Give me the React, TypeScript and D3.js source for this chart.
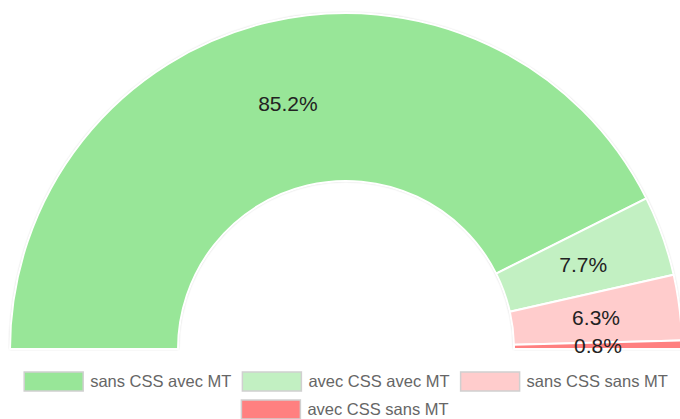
import React, { useEffect, useRef } from "react";
import * as d3 from "d3";

const categories = ["sans CSS avec MT", "avec CSS avec MT", "sans CSS sans MT", "avec CSS sans MT"];
const values = [85.2, 7.7, 6.3, 0.8];
const colors = ["#98e698", "#c2f0c2", "#ffcccc", "#ff8080"];

const App = () => {
	const svgRef = useRef(null);

	useEffect(() => {
		drawChart();
	}, []);

	const drawChart = () => {
		const root = d3.select(svgRef.current);
		root.selectAll("*").remove();

		const width = 680;
		const cx = 346;
		const cy = 349;
		const outer = 336;
		const inner = 168;

		const defs = root.append("defs");
		const filter = defs
			.append("filter")
			.attr("id", "shadow")
			.attr("x", "-10%")
			.attr("y", "-10%")
			.attr("width", "120%")
			.attr("height", "120%");
		filter
			.append("feDropShadow")
			.attr("dx", 0)
			.attr("dy", 0)
			.attr("stdDeviation", 1.2)
			.attr("flood-color", "#000")
			.attr("flood-opacity", 0.35);

		const data = categories.map((c, i) => ({ name: c, value: values[i], color: colors[i] }));

		const pie = d3
			.pie()
			.value((d) => d.value)
			.sort(null)
			.startAngle(-Math.PI / 2)
			.endAngle(Math.PI / 2);

		const arc = d3.arc().innerRadius(inner).outerRadius(outer);

		const g = root.append("g").attr("transform", `translate(${cx},${cy})`);
		const arcs = pie(data);

		// shadow behind whole donut
		g.append("path")
			.attr("d", arc({ startAngle: -Math.PI / 2, endAngle: Math.PI / 2 }))
			.attr("fill", "#fff")
			.attr("filter", "url(#shadow)");

		g.selectAll(".slice")
			.data(arcs)
			.enter()
			.append("path")
			.attr("class", "slice")
			.attr("d", arc)
			.attr("fill", (d) => d.data.color)
			.attr("stroke", "#fff")
			.attr("stroke-width", 2)
			.attr("stroke-linejoin", "round");

		g.selectAll(".lbl")
			.data(arcs)
			.enter()
			.append("text")
			.attr("class", "lbl")
			.attr("transform", (d) => `translate(${arc.centroid(d)})`)
			.attr("text-anchor", "middle")
			.attr("dy", "0.36em")
			.style("font-family", "Arial, 'Liberation Sans', sans-serif")
			.style("font-size", "21px")
			.attr("fill", "#222")
			.text((d) => d.data.value.toFixed(1) + "%");

		// legend, flow layout centered in rows
		const boxW = 59;
		const boxH = 19;
		const gapText = 7;
		const gapItem = 11;
		const rowY = [372, 400];
		const legend = root.append("g").style("font-family", "Arial, 'Liberation Sans', sans-serif").style("font-size", "16.5px");

		const items = data.map((d) => {
			const item = legend.append("g");
			item.append("rect")
				.attr("width", boxW)
				.attr("height", boxH)
				.attr("fill", d.color)
				.attr("stroke", "#d0d0d0")
				.attr("stroke-width", 1.5);
			const t = item
				.append("text")
				.attr("x", boxW + gapText)
				.attr("y", boxH / 2)
				.attr("dy", "0.36em")
				.attr("fill", "#666")
				.text(d.name);
			const w = boxW + gapText + t.node().getComputedTextLength();
			return { item, w };
		});

		const maxRow = width - 20;
		const rows = [];
		let cur = [];
		let curW = 0;
		items.forEach((it) => {
			const add = cur.length ? gapItem + it.w : it.w;
			if (curW + add > maxRow && cur.length) {
				rows.push(cur);
				cur = [it];
				curW = it.w;
			} else {
				cur.push(it);
				curW += add;
			}
		});
		if (cur.length) rows.push(cur);

		rows.forEach((row, ri) => {
			const total = row.reduce((s, it) => s + it.w, 0) + gapItem * (row.length - 1);
			let x = (width - total) / 2 + (ri === 0 ? 6 : 5);
			row.forEach((it) => {
				it.item.attr("transform", `translate(${x},${rowY[ri]})`);
				x += it.w + gapItem;
			});
		});
	};

	return (
		<svg
			ref={svgRef}
			width={680}
			height={419}
			style={{ position: "absolute", left: 0, top: 0, display: "block" }}
		></svg>
	);
};

export default App;
